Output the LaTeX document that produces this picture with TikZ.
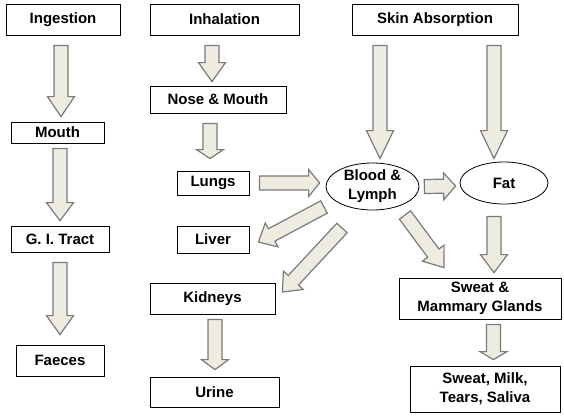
\documentclass[tikz,border=0pt]{standalone}
\usepackage{fontspec}
\setmainfont{Liberation Sans}
\usetikzlibrary{calc,shapes.geometric}
\definecolor{arrowfill}{HTML}{EEECE1}
\definecolor{arrowline}{HTML}{7A7A7A}
% block arrow: [head length]{tail}{tip}
\newcommand{\fatarrow}[3][18]{%
  \coordinate (tail) at #2;
  \coordinate (tip) at #3;
  \coordinate (neck) at ($(tip)!#1pt!(tail)$);
  \draw[fat arrow] ($(tail)!7pt!90:(tip)$) -- ($(neck)!7pt!90:(tip)$) -- ($(neck)!13.5pt!90:(tip)$)
    -- (tip) -- ($(neck)!13.5pt!-90:(tip)$) -- ($(neck)!7pt!-90:(tip)$) -- ($(tail)!7pt!-90:(tip)$) -- cycle;}
\begin{document}
\begin{tikzpicture}[x=1pt, y=-1pt]
    \tikzset{
        box/.style={rectangle, draw, line width=0.8pt, inner sep=0pt, align=center,
            font=\fontsize{15}{19}\selectfont\bfseries},
        oval/.style={box, ellipse},
        fat arrow/.style={fill=arrowfill, draw=arrowline, line width=1.2pt, line join=miter}
    }
    \useasboundingbox (0,0) rectangle (564,418);
    % sources
    \node[box, minimum width=114pt, minimum height=31pt] (ingestion) at (63,19.5) {Ingestion};
    \node[box, minimum width=149pt, minimum height=31pt] (inhalation) at (224.5,19.5) {Inhalation};
    \node[box, minimum width=166pt, minimum height=31pt] (skin) at (435,19.5) {Skin Absorption};
    % ingestion route
    \node[box, minimum width=93pt, minimum height=21pt] (mouth) at (57.5,132.5) {Mouth};
    \node[box, minimum width=98pt, minimum height=26pt] (gi) at (60,239) {G. I. Tract};
    \node[box, minimum width=88pt, minimum height=31pt] (faeces) at (60,360.5) {Faeces};
    % inhalation route
    \node[box, minimum width=136pt, minimum height=27pt] (nose) at (218,99.5) {Nose \& Mouth};
    \node[box, minimum width=72pt, minimum height=24pt] (lungs) at (213,183) {Lungs};
    \node[box, minimum width=72pt, minimum height=27pt] (liver) at (213,239.5) {Liver};
    \node[box, minimum width=125pt, minimum height=31pt] (kidneys) at (212.5,298.5) {Kidneys};
    \node[box, minimum width=129pt, minimum height=30pt] (urine) at (214.5,392) {Urine};
    % circulation
    \node[oval, minimum width=93pt, minimum height=47pt] (blood) at (372.5,186.5) {Blood \&\\Lymph};
    \node[oval, minimum width=88pt, minimum height=42pt] (fat) at (504,183) {Fat};
    \node[box, minimum width=162pt, minimum height=41pt] (sweat) at (480,298.5) {Sweat \&\\Mammary Glands};
    \node[box, minimum width=150pt, minimum height=46pt] (outputs) at (485,389) {Sweat, Milk,\\Tears, Saliva};
    % arrows
    \fatarrow[20]{([shift={(-2,10)}]ingestion.south)}{([shift={(3.5,-5)}]mouth.north)}
    \fatarrow[18]{([shift={(2.5,5)}]mouth.south)}{([shift={(0,-5)}]gi.north)}
    \fatarrow[19]{([shift={(0,10)}]gi.south)}{([shift={(0,-10)}]faeces.north)}
    \fatarrow[19]{([shift={(-12.5,10)}]inhalation.south)}{([shift={(-6,-4)}]nose.north)}
    \fatarrow[9]{([shift={(-8,10)}]nose.south)}{([shift={(-3,-12)}]lungs.north)}
    \fatarrow[28]{([shift={(-55,10)}]skin.south)}{([shift={(7.5,-4)}]blood.north)}
    \fatarrow[28]{([shift={(59,10)}]skin.south)}{([shift={(-10,-3)}]fat.north)}
    \fatarrow[11]{([shift={(10,0)}]lungs.east)}{([shift={(-6,-3.5)}]blood.west)}
    \fatarrow[12]{([shift={(5,0)}]blood.east)}{([shift={(-4,3)}]fat.west)}
    \fatarrow[15]{([shift={(-48.5,20.5)}]blood.center)}{([shift={(9,2.5)}]liver.east)}
    \fatarrow[16]{([shift={(-30.5,41.5)}]blood.center)}{([shift={(7,-6.5)}]kidneys.east)}
    \fatarrow[18]{([shift={(32.5,28.5)}]blood.center)}{([shift={(-36,-10)}]sweat.north)}
    \fatarrow[18]{([shift={(-10,12)}]fat.south)}{([shift={(14,-5)}]sweat.north)}
    \fatarrow[10]{([shift={(2.5,5)}]kidneys.south)}{([shift={(0.5,-7)}]urine.north)}
    \fatarrow[8]{([shift={(13.5,5)}]sweat.south)}{([shift={(8.5,-6)}]outputs.north)}
\end{tikzpicture}
\end{document}
